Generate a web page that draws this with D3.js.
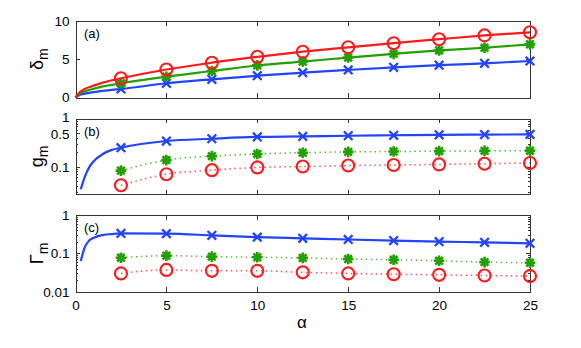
<!DOCTYPE html>
<html lang="en">
<head>
<meta charset="UTF-8">
<title>delta, g, Gamma vs alpha</title>
<script src="https://cdnjs.cloudflare.com/ajax/libs/d3/7.8.5/d3.min.js"></script>
<style>
  body { margin: 0; background: #fff; }
  svg { display: block; font-family: "Liberation Sans", Arial, sans-serif; }
  .axis path, .axis line { stroke: #333; shape-rendering: crispEdges; }
  .axis text { font-size: 13.5px; fill: #000; }
</style>
</head>
<body>
<svg width="581" height="348"></svg>
<script>
// marker positions (alpha)
const alphaPts = [2.5, 5, 7.5, 10, 12.5, 15, 17.5, 20, 22.5, 25];

// (a) delta_m
const deltaHeadAlpha = [0, 0.25, 0.5, 1, 1.5, 2];
const deltaRedHead   = [0, 0.75, 1.1, 1.55, 1.95, 2.25];
const deltaGreenHead = [0, 0.55, 0.8, 1.15, 1.45, 1.66];
const deltaBlueHead  = [0, 0.35, 0.5, 0.7, 0.86, 1.0];
const deltaRed   = [2.51, 3.66, 4.55, 5.32, 5.99, 6.56, 7.1, 7.62, 8.12, 8.52];
const deltaGreen = [1.86, 2.72, 3.46, 4.2, 4.7, 5.22, 5.7, 6.15, 6.5, 6.95];
const deltaBlue  = [1.11, 1.86, 2.38, 2.85, 3.24, 3.6, 3.94, 4.22, 4.47, 4.77];

// (b) g_m
const gHeadAlpha = [0.29, 0.5, 0.75, 1, 1.5, 2];
const gBlueHead  = [0.034, 0.06, 0.097, 0.13, 0.185, 0.225];
const gBlue  = [0.25, 0.345, 0.385, 0.42, 0.43, 0.445, 0.455, 0.465, 0.47, 0.475];
const gGreen = [0.083, 0.138, 0.167, 0.185, 0.197, 0.205, 0.208, 0.212, 0.215, 0.217];
const gRed   = [0.041, 0.07, 0.085, 0.097, 0.101, 0.106, 0.109, 0.112, 0.116, 0.12];

// (c) Gamma_m
const gammaHeadAlpha = [0.29, 0.5, 0.75, 1, 1.5, 2];
const gammaBlueHead  = [0.063, 0.14, 0.215, 0.255, 0.3, 0.318];
const gammaBlue  = [0.33, 0.325, 0.295, 0.265, 0.247, 0.23, 0.215, 0.202, 0.194, 0.183];
const gammaGreen = [0.077, 0.087, 0.082, 0.079, 0.076, 0.071, 0.068, 0.064, 0.059, 0.057];
const gammaRed   = [0.030, 0.037, 0.035, 0.035, 0.032, 0.030, 0.0285, 0.0275, 0.0265, 0.0255];

const xTicks = [0, 5, 10, 15, 20, 25];

const RED = "#ff1a1a", GREEN = "#22a000", BLUE = "#2244ff";

const svg = d3.select("svg");
const x = d3.scaleLinear().domain([0, 25]).range([75.5, 530]);

const yA = d3.scaleLinear().domain([0, 10]).range([97.5, 21]);
const yB = d3.scaleLog().domain([0.027, 1]).range([194, 118.9]);
const yC = d3.scaleLog().domain([0.01, 1]).range([291.7, 215]);

function zip(xs, ys) { return xs.map((a, i) => [a, ys[i]]); }

function frame(y, yTicks, yFmt, minors, showX, label, ylab, sub) {
    const [y0, y1] = y.range();
    const g = svg.append("g");
    // left
    const left = g.append("g").attr("class", "axis").attr("transform", "translate(75.5,0)")
        .call(d3.axisLeft(y).tickValues(yTicks).tickFormat(yFmt).tickSize(-4.5).tickSizeOuter(0).tickPadding(6));
    // keep the close "1" / "0.5" labels apart a little
    if (yTicks.includes(0.5)) {
        left.selectAll(".tick text").attr("dy", d => d === 1 ? "0.2em" : d === 0.5 ? "0.4em" : "0.32em");
    }
    // right
    g.append("g").attr("class", "axis").attr("transform", "translate(530,0)")
        .call(d3.axisRight(y).tickValues(yTicks).tickFormat("").tickSize(-4.5).tickSizeOuter(0));
    if (minors) {
        g.append("g").attr("class", "axis").attr("transform", "translate(75.5,0)")
            .call(d3.axisLeft(y).tickValues(minors).tickFormat("").tickSize(-2.5).tickSizeOuter(0));
        g.append("g").attr("class", "axis").attr("transform", "translate(530,0)")
            .call(d3.axisRight(y).tickValues(minors).tickFormat("").tickSize(-2.5).tickSizeOuter(0));
    }
    // bottom
    g.append("g").attr("class", "axis").attr("transform", `translate(0,${y0})`)
        .call(d3.axisBottom(x).tickValues(xTicks).tickFormat(showX ? d3.format("d") : "")
            .tickSize(-4.5).tickSizeOuter(0).tickPadding(9));
    // top
    g.append("g").attr("class", "axis").attr("transform", `translate(0,${y1})`)
        .call(d3.axisTop(x).tickValues(xTicks).tickFormat("").tickSize(-4.5).tickSizeOuter(0));

    g.append("text").attr("x", 84).attr("y", y1 + 17).attr("font-size", 13).text(label);

    const t = g.append("text")
        .attr("transform", `translate(43,${(y0 + y1) / 2}) rotate(-90)`)
        .attr("text-anchor", "middle").attr("font-size", 18);
    t.append("tspan").text(ylab);
    t.append("tspan").attr("font-size", 14).attr("dy", 5).text(sub);
}

const line = d3.line().x(d => x(d[0])).curve(d3.curveMonotoneX);

function series(y, pts, color, dotted, marker) {
    const g = svg.append("g");
    g.append("path")
        .attr("d", line.y(d => y(d[1]))(pts.line))
        .attr("fill", "none")
        .attr("stroke", color)
        .attr("stroke-width", dotted ? 1.5 : 2.2)
        .attr("stroke-dasharray", dotted ? "1.5,3.5" : null)
        .attr("stroke-opacity", dotted ? 0.75 : 1);
    const m = g.selectAll("g.mk").data(pts.marks).join("g")
        .attr("transform", d => `translate(${x(d[0])},${y(d[1])})`);
    if (marker === "o") {
        m.append("circle").attr("r", 6).attr("fill", "none").attr("stroke", color).attr("stroke-width", 2.1);
    } else if (marker === "x") {
        m.append("path").attr("d", "M-4.3,-4.3L4.3,4.3M-4.3,4.3L4.3,-4.3").attr("stroke", color).attr("stroke-width", 2.3);
    } else {
        m.append("path").attr("d", "M-5.3,0L5.3,0M0,-5.3L0,5.3M-3.8,-3.8L3.8,3.8M-3.8,3.8L3.8,-3.8")
            .attr("stroke", color).attr("stroke-width", 2.6);
    }
}

// panel frames
const logMinorB = [0.03, 0.04, 0.05, 0.06, 0.07, 0.08, 0.09, 0.2, 0.3, 0.4, 0.6, 0.7, 0.8, 0.9];
const logMinorC = [0.02, 0.03, 0.04, 0.05, 0.06, 0.07, 0.08, 0.09, 0.2, 0.3, 0.4, 0.5, 0.6, 0.7, 0.8, 0.9];

frame(yA, [0, 5, 10], d3.format("d"), null, false, "(a)", "δ", "m");
frame(yB, [0.1, 0.5, 1], d => d, logMinorB, false, "(b)", "g", "m");
frame(yC, [0.01, 0.1, 1], d => d, logMinorC, true, "(c)", "Γ", "m");

// (a)
series(yA, { line: zip(deltaHeadAlpha, deltaBlueHead).concat(zip(alphaPts, deltaBlue)), marks: zip(alphaPts, deltaBlue) }, BLUE, false, "x");
series(yA, { line: zip(deltaHeadAlpha, deltaGreenHead).concat(zip(alphaPts, deltaGreen)), marks: zip(alphaPts, deltaGreen) }, GREEN, false, "*");
series(yA, { line: zip(deltaHeadAlpha, deltaRedHead).concat(zip(alphaPts, deltaRed)), marks: zip(alphaPts, deltaRed) }, RED, false, "o");

// (b)
series(yB, { line: zip(gHeadAlpha, gBlueHead).concat(zip(alphaPts, gBlue)), marks: zip(alphaPts, gBlue) }, BLUE, false, "x");
series(yB, { line: zip(alphaPts, gGreen), marks: zip(alphaPts, gGreen) }, GREEN, true, "*");
series(yB, { line: zip(alphaPts, gRed), marks: zip(alphaPts, gRed) }, RED, true, "o");

// (c)
series(yC, { line: zip(gammaHeadAlpha, gammaBlueHead).concat(zip(alphaPts, gammaBlue)), marks: zip(alphaPts, gammaBlue) }, BLUE, false, "x");
series(yC, { line: zip(alphaPts, gammaGreen), marks: zip(alphaPts, gammaGreen) }, GREEN, true, "*");
series(yC, { line: zip(alphaPts, gammaRed), marks: zip(alphaPts, gammaRed) }, RED, true, "o");

// x label
svg.append("text").attr("x", 302).attr("y", 328).attr("text-anchor", "middle")
    .attr("font-size", 17).text("α");
</script>
</body>
</html>
